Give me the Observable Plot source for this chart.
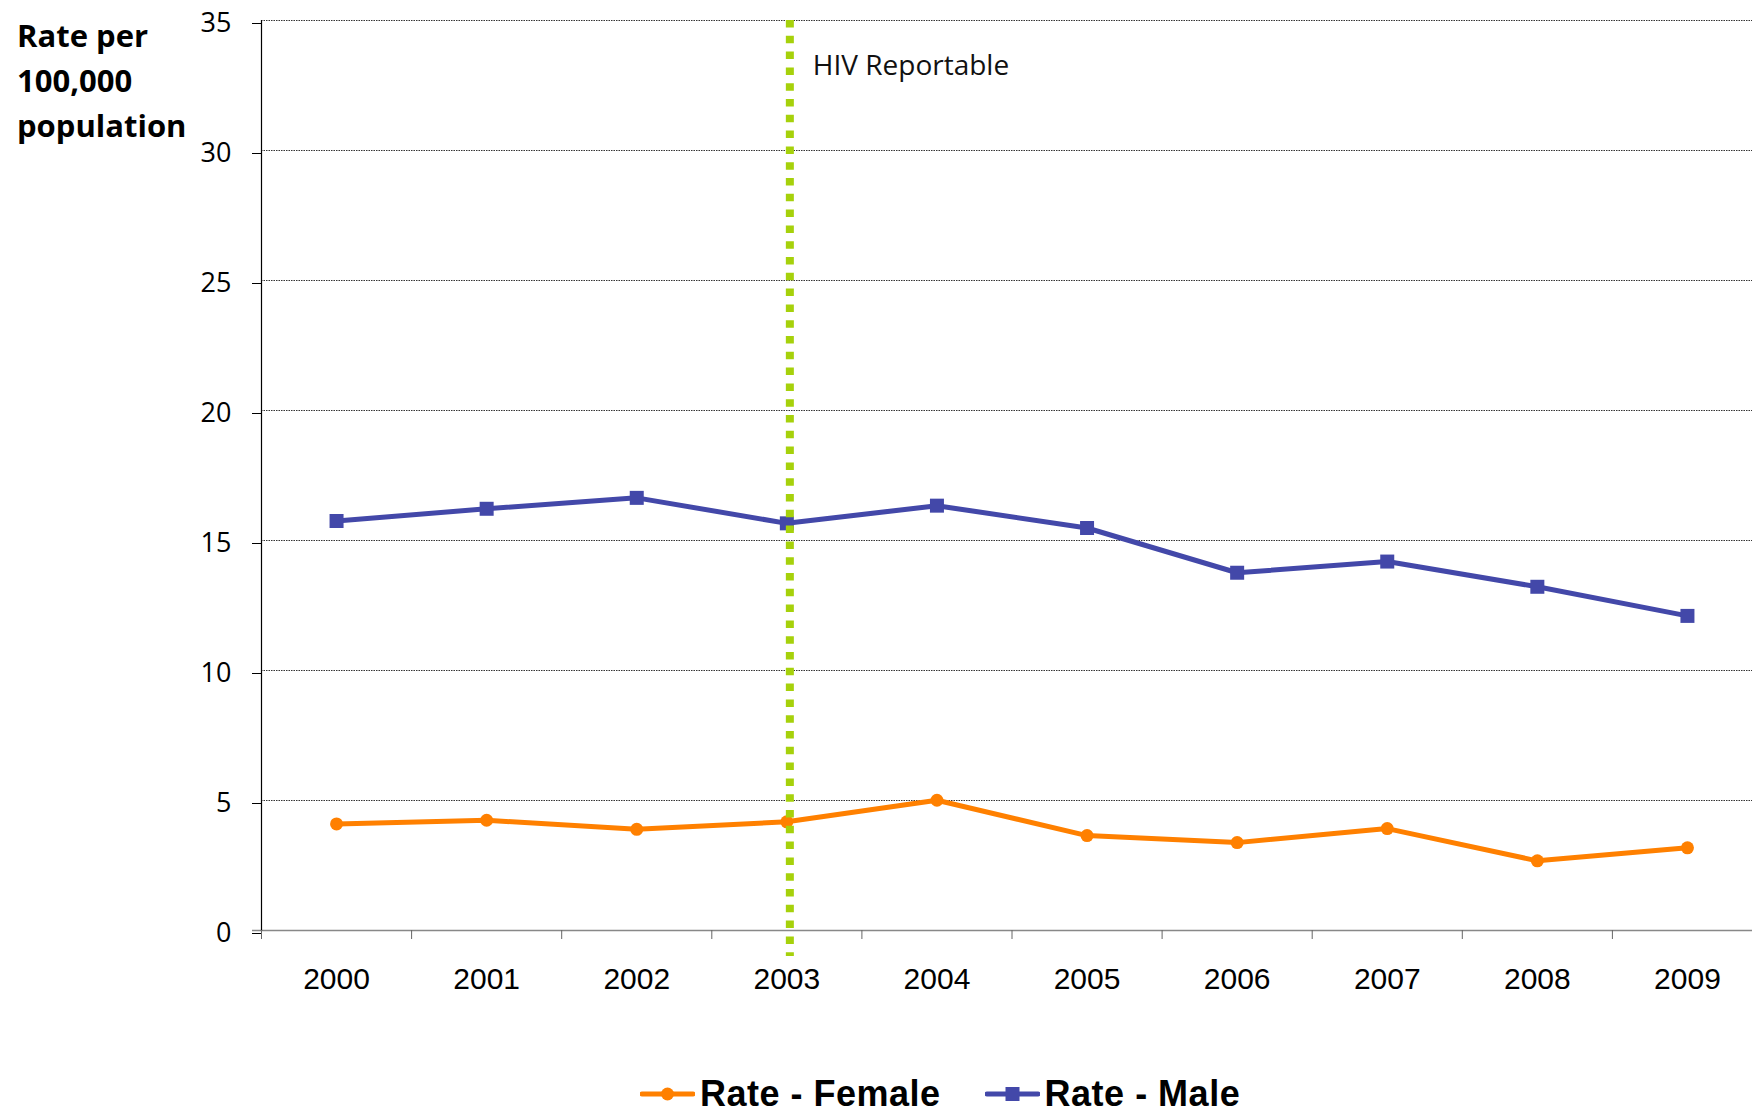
<!DOCTYPE html>
<html>
<head>
<meta charset="utf-8">
<script src="https://cdn.jsdelivr.net/npm/d3@7"></script>
<script src="https://cdn.jsdelivr.net/npm/@observablehq/plot@0.6"></script>
<style>
  html, body { margin: 0; padding: 0; background: #fff; }
  #wrap { position: relative; width: 1752px; height: 1116px; overflow: hidden; }
  #ylabel { position: absolute; left: 17px; top: 13px; font-family: "Open Sans", sans-serif; font-weight: 700; font-size: 31px; line-height: 45px; color: #000; }
  #legend { position: absolute; left: 640px; top: 1074px; height: 40px; display: flex; align-items: center; font-family: "Liberation Sans", Arial, sans-serif; font-weight: 700; font-size: 36px; letter-spacing: 0.5px; line-height: 40px; color: #000; }
  .item { display: flex; align-items: center; margin-right: 44px; }
  .item svg { margin-right: 5px; }
</style>
</head>
<body>
<div id="wrap">
  <div id="chart"></div>
  <div id="ylabel">Rate per<br>100,000<br>population</div>
  <div id="legend"></div>
</div>
<script>
const years = [2000, 2001, 2002, 2003, 2004, 2005, 2006, 2007, 2008, 2009];
const femaleRates = [4.10, 4.24, 3.89, 4.18, 5.01, 3.65, 3.38, 3.92, 2.68, 3.18];
const maleRates = [15.75, 16.22, 16.64, 15.66, 16.34, 15.48, 13.76, 14.19, 13.22, 12.10];
const yTicks = [0, 5, 10, 15, 20, 25, 30, 35];
const seriesNames = ["Rate - Female", "Rate - Male"];
const seriesColors = ["#FF8000", "#4348A9"];
const seriesSymbols = ["circle", "square"];
const hivYear = 2003;
const hivLabel = "HIV Reportable";

const femaleRows = years.map((year, i) => ({year, value: femaleRates[i], series: seriesNames[0]}));
const maleRows = years.map((year, i) => ({year, value: maleRates[i], series: seriesNames[1]}));
const boundaries = years.map(y => y - 0.5).concat([years[years.length - 1] + 0.5]);

const chart = Plot.plot({
  width: 1752,
  height: 1060,
  marginTop: 20,
  marginBottom: 130,
  marginLeft: 261,
  marginRight: 0,
  x: {type: "linear", domain: [years[0] - 0.5, years[years.length - 1] + 0.5], range: [261, 1762]},
  y: {domain: [0, 35]},
  marks: [
    Plot.gridY(yTicks.filter(t => t > 0), {stroke: "#333", strokeOpacity: 1, strokeWidth: 1, strokeDasharray: "1.5,1"}),
    Plot.ruleY([0], {stroke: "#888", strokeWidth: 1.5, insetLeft: -9}),
    Plot.axisY({ticks: yTicks, tickSize: 9, tickPadding: 21, tickFormat: d => String(d), fontSize: 27, fontFamily: "Open Sans", dy: 3, label: null, stroke: "#000"}),
    Plot.frame({anchor: "left", stroke: "#000", strokeWidth: 1.2}),
    Plot.axisX({ticks: boundaries, tickSize: 9, tickFormat: () => "", stroke: "#666", label: null}),
    Plot.axisX({ticks: years, tickSize: 0, tickPadding: 37, tickFormat: d => String(d), fontSize: 30, fontFamily: "Liberation Sans", label: null}),
    Plot.line(maleRows, {x: "year", y: "value", stroke: seriesColors[1], strokeWidth: 5}),
    Plot.dot(maleRows, {x: "year", y: "value", symbol: seriesSymbols[1], r: 7.9, fill: seriesColors[1]}),
    Plot.line(femaleRows, {x: "year", y: "value", stroke: seriesColors[0], strokeWidth: 5}),
    Plot.dot(femaleRows, {x: "year", y: "value", symbol: seriesSymbols[0], r: 6.5, fill: seriesColors[0]}),
    Plot.ruleX([hivYear], {stroke: "#A6D10B", strokeWidth: 8, strokeDasharray: "7.5,8.3", insetBottom: -26, dx: 3}),
    Plot.text([hivLabel], {x: hivYear, y: 35, text: d => d, dx: 26, dy: 46, textAnchor: "start", fontSize: 28, fontFamily: "Open Sans", fill: "#111"})
  ]
});
document.getElementById("chart").appendChild(chart);

const legend = document.getElementById("legend");
seriesNames.forEach((name, i) => {
  const item = document.createElement("div");
  item.className = "item";
  const marker = seriesSymbols[i] === "circle"
    ? `<circle cx="27.5" cy="10" r="6.5" fill="${seriesColors[i]}"/>`
    : `<rect x="20.5" y="3" width="14" height="14" fill="${seriesColors[i]}"/>`;
  item.innerHTML = `<svg width="55" height="20"><line x1="2" y1="10" x2="53" y2="10" stroke="${seriesColors[i]}" stroke-width="5" stroke-linecap="round"/>${marker}</svg><span>${name}</span>`;
  legend.appendChild(item);
});
</script>
</body>
</html>
